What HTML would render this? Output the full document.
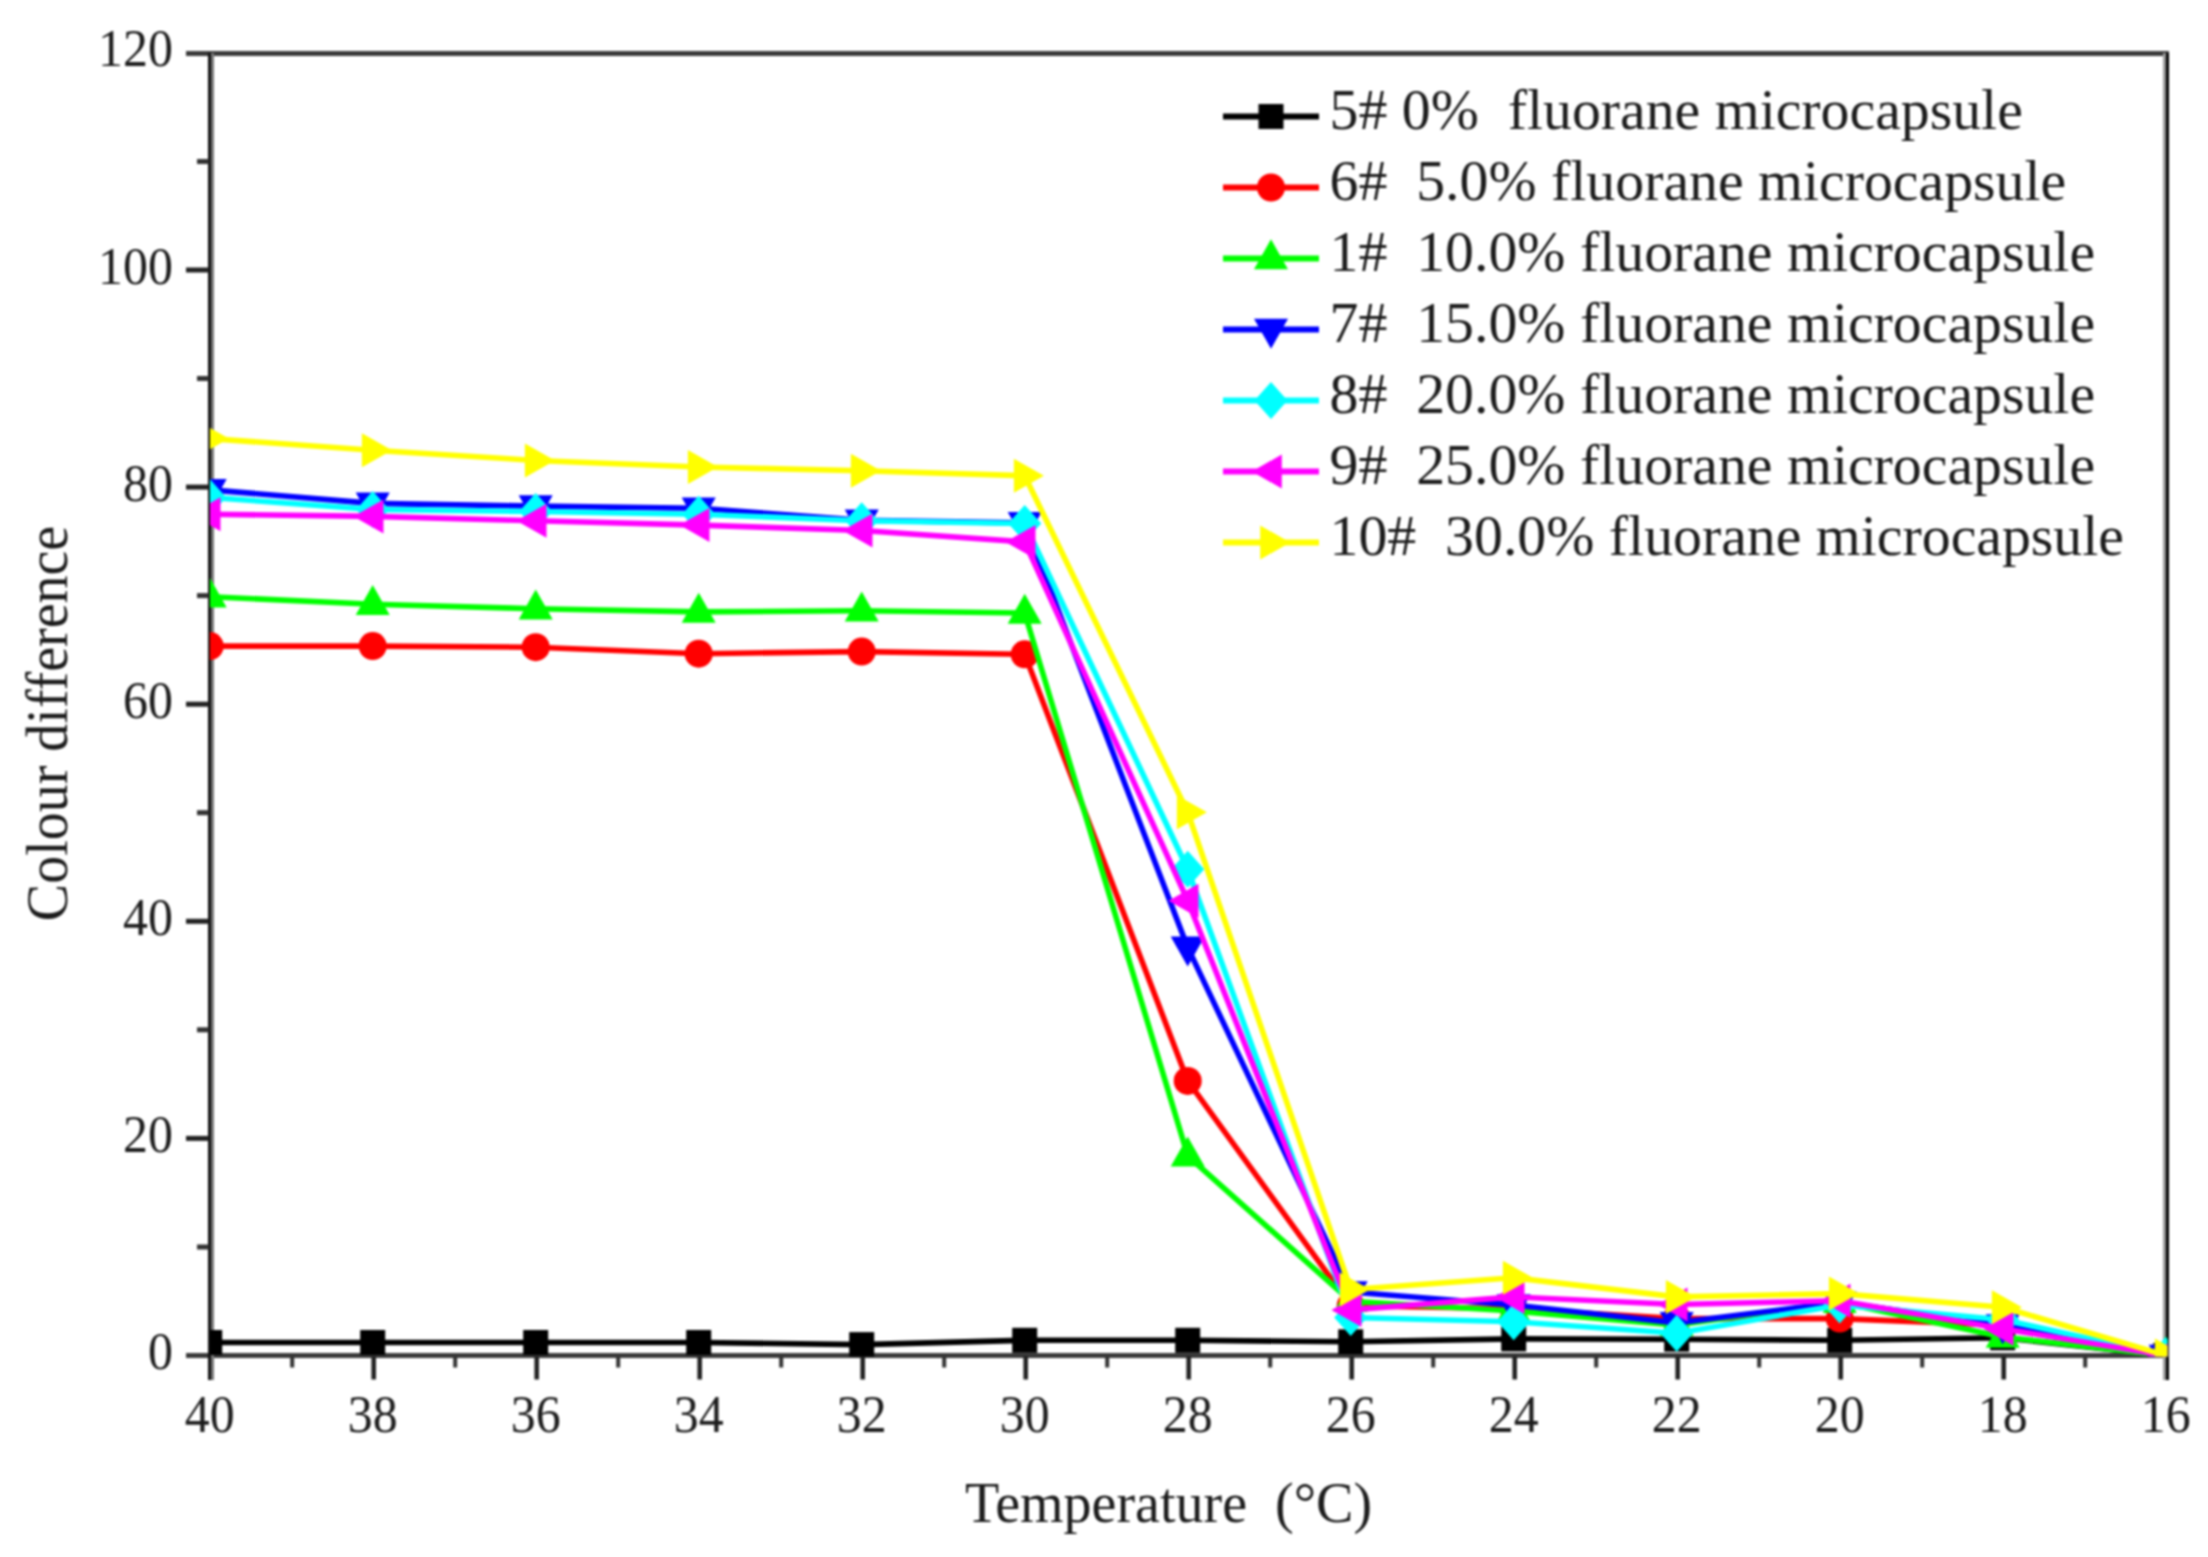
<!DOCTYPE html>
<html lang="en"><head><meta charset="utf-8"><title>Colour difference vs temperature</title>
<style>
html,body{margin:0;padding:0;background:#fff;}
body{width:2208px;height:1557px;overflow:hidden;}
svg{display:block;font-family:"Liberation Serif",serif;fill:#1c1c1c;}
#chart{width:2208px;height:1557px;filter:blur(0.8px);}
.tk{font-size:52px;}
.ti{font-size:56px;}
.lg{font-size:57.8px;}
</style></head><body>
<div id="chart">
<svg width="2208" height="1557" viewBox="0 0 2208 1557">
<defs><clipPath id="cp"><rect x="210" y="53" width="1957.5" height="1303.5"/></clipPath></defs>
<rect x="0" y="0" width="2208" height="1557" fill="#ffffff"/>

<g id="axes">
<rect x="186" y="51" width="1983" height="5" fill="#3a3a3a"/>
<rect x="186" y="1353" width="1983" height="5" fill="#3a3a3a"/>
<rect x="208" y="53" width="3" height="1327" fill="#111"/><rect x="211" y="53" width="3" height="1327" fill="#777"/>
<rect x="2163" y="53" width="3" height="1327" fill="#999"/><rect x="2166" y="53" width="3" height="1327" fill="#000"/>
<rect x="197" y="1244.5" width="12" height="5" fill="#333"/>
<rect x="186" y="1135.9" width="23" height="5" fill="#222"/>
<rect x="197" y="1027.3" width="12" height="5" fill="#333"/>
<rect x="186" y="918.8" width="23" height="5" fill="#222"/>
<rect x="197" y="810.2" width="12" height="5" fill="#333"/>
<rect x="186" y="701.7" width="23" height="5" fill="#222"/>
<rect x="197" y="593.1" width="12" height="5" fill="#333"/>
<rect x="186" y="484.6" width="23" height="5" fill="#222"/>
<rect x="197" y="376.0" width="12" height="5" fill="#333"/>
<rect x="186" y="267.5" width="23" height="5" fill="#222"/>
<rect x="197" y="159.0" width="12" height="5" fill="#333"/>
<rect x="290.2" y="1356" width="4" height="11.5" fill="#333"/>
<rect x="371.4" y="1356" width="4.6" height="23.5" fill="#222"/>
<rect x="453.2" y="1356" width="4" height="11.5" fill="#333"/>
<rect x="534.4" y="1356" width="4.6" height="23.5" fill="#222"/>
<rect x="616.2" y="1356" width="4" height="11.5" fill="#333"/>
<rect x="697.4" y="1356" width="4.6" height="23.5" fill="#222"/>
<rect x="779.2" y="1356" width="4" height="11.5" fill="#333"/>
<rect x="860.4" y="1356" width="4.6" height="23.5" fill="#222"/>
<rect x="942.2" y="1356" width="4" height="11.5" fill="#333"/>
<rect x="1023.4" y="1356" width="4.6" height="23.5" fill="#222"/>
<rect x="1105.2" y="1356" width="4" height="11.5" fill="#333"/>
<rect x="1186.4" y="1356" width="4.6" height="23.5" fill="#222"/>
<rect x="1268.2" y="1356" width="4" height="11.5" fill="#333"/>
<rect x="1349.4" y="1356" width="4.6" height="23.5" fill="#222"/>
<rect x="1431.2" y="1356" width="4" height="11.5" fill="#333"/>
<rect x="1512.4" y="1356" width="4.6" height="23.5" fill="#222"/>
<rect x="1594.2" y="1356" width="4" height="11.5" fill="#333"/>
<rect x="1675.4" y="1356" width="4.6" height="23.5" fill="#222"/>
<rect x="1757.2" y="1356" width="4" height="11.5" fill="#333"/>
<rect x="1838.4" y="1356" width="4.6" height="23.5" fill="#222"/>
<rect x="1920.2" y="1356" width="4" height="11.5" fill="#333"/>
<rect x="2001.4" y="1356" width="4.6" height="23.5" fill="#222"/>
<rect x="2083.2" y="1356" width="4" height="11.5" fill="#333"/>
</g>
<g class="tk" text-anchor="end">
<text transform="translate(173,1369.0) scale(0.96,1)">0</text>
<text transform="translate(173,1151.9) scale(0.96,1)">20</text>
<text transform="translate(173,934.8) scale(0.96,1)">40</text>
<text transform="translate(173,717.7) scale(0.96,1)">60</text>
<text transform="translate(173,500.6) scale(0.96,1)">80</text>
<text transform="translate(173,283.5) scale(0.96,1)">100</text>
<text transform="translate(173,66.4) scale(0.96,1)">120</text>
</g><g class="tk" text-anchor="middle">
<text transform="translate(209.7,1431.5) scale(0.96,1)">40</text>
<text transform="translate(372.7,1431.5) scale(0.96,1)">38</text>
<text transform="translate(535.7,1431.5) scale(0.96,1)">36</text>
<text transform="translate(698.7,1431.5) scale(0.96,1)">34</text>
<text transform="translate(861.7,1431.5) scale(0.96,1)">32</text>
<text transform="translate(1024.7,1431.5) scale(0.96,1)">30</text>
<text transform="translate(1187.7,1431.5) scale(0.96,1)">28</text>
<text transform="translate(1350.7,1431.5) scale(0.96,1)">26</text>
<text transform="translate(1513.7,1431.5) scale(0.96,1)">24</text>
<text transform="translate(1676.7,1431.5) scale(0.96,1)">22</text>
<text transform="translate(1839.7,1431.5) scale(0.96,1)">20</text>
<text transform="translate(2002.7,1431.5) scale(0.96,1)">18</text>
<text transform="translate(2165.7,1431.5) scale(0.96,1)">16</text>
</g>
<text class="ti" text-anchor="middle" x="1168.5" y="1521.5">Temperature  (°C)</text>
<text class="ti" text-anchor="middle" transform="translate(66.5,723.5) rotate(-90) scale(1,1.05)">Colour difference</text>
<g clip-path="url(#cp)" stroke-linejoin="round">
<polyline points="209.7,1342.5 372.7,1342.5 535.7,1342.5 698.7,1342.5 861.7,1344.6 1024.7,1340.3 1187.7,1340.3 1350.7,1341.8 1513.7,1338.9 1676.7,1339.2 1839.7,1340.3 2002.7,1337.8 2165.7,1355.5" fill="none" stroke="#000000" stroke-width="5.6"/>
<rect x="197.2" y="1330.0" width="25.0" height="25.0" fill="#000000"/>
<rect x="360.2" y="1330.0" width="25.0" height="25.0" fill="#000000"/>
<rect x="523.2" y="1330.0" width="25.0" height="25.0" fill="#000000"/>
<rect x="686.2" y="1330.0" width="25.0" height="25.0" fill="#000000"/>
<rect x="849.2" y="1332.1" width="25.0" height="25.0" fill="#000000"/>
<rect x="1012.2" y="1327.8" width="25.0" height="25.0" fill="#000000"/>
<rect x="1175.2" y="1327.8" width="25.0" height="25.0" fill="#000000"/>
<rect x="1338.2" y="1329.3" width="25.0" height="25.0" fill="#000000"/>
<rect x="1501.2" y="1326.4" width="25.0" height="25.0" fill="#000000"/>
<rect x="1664.2" y="1326.7" width="25.0" height="25.0" fill="#000000"/>
<rect x="1827.2" y="1327.8" width="25.0" height="25.0" fill="#000000"/>
<rect x="1990.2" y="1325.3" width="25.0" height="25.0" fill="#000000"/>
<rect x="2153.2" y="1343.0" width="25.0" height="25.0" fill="#000000"/>
<polyline points="209.7,646.1 372.7,646.1 535.7,647.2 698.7,653.7 861.7,651.6 1024.7,654.3 1187.7,1080.9 1350.7,1305.6 1513.7,1308.8 1676.7,1318.6 1839.7,1318.6 2002.7,1325.1 2165.7,1355.5" fill="none" stroke="#ff0000" stroke-width="5.6"/>
<circle cx="209.7" cy="646.1" r="14" fill="#ff0000"/>
<circle cx="372.7" cy="646.1" r="14" fill="#ff0000"/>
<circle cx="535.7" cy="647.2" r="14" fill="#ff0000"/>
<circle cx="698.7" cy="653.7" r="14" fill="#ff0000"/>
<circle cx="861.7" cy="651.6" r="14" fill="#ff0000"/>
<circle cx="1024.7" cy="654.3" r="14" fill="#ff0000"/>
<circle cx="1187.7" cy="1080.9" r="14" fill="#ff0000"/>
<circle cx="1350.7" cy="1305.6" r="14" fill="#ff0000"/>
<circle cx="1513.7" cy="1308.8" r="14" fill="#ff0000"/>
<circle cx="1676.7" cy="1318.6" r="14" fill="#ff0000"/>
<circle cx="1839.7" cy="1318.6" r="14" fill="#ff0000"/>
<circle cx="2002.7" cy="1325.1" r="14" fill="#ff0000"/>
<circle cx="2165.7" cy="1355.5" r="14" fill="#ff0000"/>
<polyline points="209.7,596.7 372.7,604.3 535.7,608.7 698.7,611.9 861.7,610.8 1024.7,613.0 1187.7,1155.8 1350.7,1301.2 1513.7,1311.0 1676.7,1325.1 1839.7,1302.3 2002.7,1337.0 2165.7,1355.5" fill="none" stroke="#00ff00" stroke-width="5.6"/>
<polygon points="192.7,607.5 226.7,607.5 209.7,577.5" fill="#00ff00"/>
<polygon points="355.7,615.1 389.7,615.1 372.7,585.1" fill="#00ff00"/>
<polygon points="518.7,619.5 552.7,619.5 535.7,589.5" fill="#00ff00"/>
<polygon points="681.7,622.7 715.7,622.7 698.7,592.7" fill="#00ff00"/>
<polygon points="844.7,621.6 878.7,621.6 861.7,591.6" fill="#00ff00"/>
<polygon points="1007.7,623.8 1041.7,623.8 1024.7,593.8" fill="#00ff00"/>
<polygon points="1170.7,1166.6 1204.7,1166.6 1187.7,1136.6" fill="#00ff00"/>
<polygon points="1333.7,1312.0 1367.7,1312.0 1350.7,1282.0" fill="#00ff00"/>
<polygon points="1496.7,1321.8 1530.7,1321.8 1513.7,1291.8" fill="#00ff00"/>
<polygon points="1659.7,1335.9 1693.7,1335.9 1676.7,1305.9" fill="#00ff00"/>
<polygon points="1822.7,1313.1 1856.7,1313.1 1839.7,1283.1" fill="#00ff00"/>
<polygon points="1985.7,1347.8 2019.7,1347.8 2002.7,1317.8" fill="#00ff00"/>
<polygon points="2148.7,1366.3 2182.7,1366.3 2165.7,1336.3" fill="#00ff00"/>
<polyline points="209.7,489.8 372.7,503.4 535.7,506.1 698.7,508.3 861.7,520.2 1024.7,522.9 1187.7,947.4 1350.7,1292.0 1513.7,1305.0 1676.7,1322.9 1839.7,1302.3 2002.7,1325.1 2165.7,1355.5" fill="none" stroke="#0000ff" stroke-width="5.6"/>
<polygon points="192.7,479.0 226.7,479.0 209.7,509.0" fill="#0000ff"/>
<polygon points="355.7,492.6 389.7,492.6 372.7,522.6" fill="#0000ff"/>
<polygon points="518.7,495.3 552.7,495.3 535.7,525.3" fill="#0000ff"/>
<polygon points="681.7,497.5 715.7,497.5 698.7,527.5" fill="#0000ff"/>
<polygon points="844.7,509.4 878.7,509.4 861.7,539.4" fill="#0000ff"/>
<polygon points="1007.7,512.1 1041.7,512.1 1024.7,542.1" fill="#0000ff"/>
<polygon points="1170.7,936.6 1204.7,936.6 1187.7,966.6" fill="#0000ff"/>
<polygon points="1333.7,1281.2 1367.7,1281.2 1350.7,1311.2" fill="#0000ff"/>
<polygon points="1496.7,1294.2 1530.7,1294.2 1513.7,1324.2" fill="#0000ff"/>
<polygon points="1659.7,1312.1 1693.7,1312.1 1676.7,1342.1" fill="#0000ff"/>
<polygon points="1822.7,1291.5 1856.7,1291.5 1839.7,1321.5" fill="#0000ff"/>
<polygon points="1985.7,1314.3 2019.7,1314.3 2002.7,1344.3" fill="#0000ff"/>
<polygon points="2148.7,1344.7 2182.7,1344.7 2165.7,1374.7" fill="#0000ff"/>
<polyline points="209.7,497.4 372.7,509.4 535.7,511.5 698.7,514.2 861.7,520.8 1024.7,523.5 1187.7,869.2 1350.7,1317.5 1513.7,1321.8 1676.7,1333.2 1839.7,1305.0 2002.7,1319.7 2165.7,1355.5" fill="none" stroke="#00ffff" stroke-width="5.6"/>
<polygon points="193.2,497.4 209.7,478.9 226.2,497.4 209.7,515.9" fill="#00ffff"/>
<polygon points="356.2,509.4 372.7,490.9 389.2,509.4 372.7,527.9" fill="#00ffff"/>
<polygon points="519.2,511.5 535.7,493.0 552.2,511.5 535.7,530.0" fill="#00ffff"/>
<polygon points="682.2,514.2 698.7,495.7 715.2,514.2 698.7,532.7" fill="#00ffff"/>
<polygon points="845.2,520.8 861.7,502.3 878.2,520.8 861.7,539.3" fill="#00ffff"/>
<polygon points="1008.2,523.5 1024.7,505.0 1041.2,523.5 1024.7,542.0" fill="#00ffff"/>
<polygon points="1171.2,869.2 1187.7,850.7 1204.2,869.2 1187.7,887.7" fill="#00ffff"/>
<polygon points="1334.2,1317.5 1350.7,1299.0 1367.2,1317.5 1350.7,1336.0" fill="#00ffff"/>
<polygon points="1497.2,1321.8 1513.7,1303.3 1530.2,1321.8 1513.7,1340.3" fill="#00ffff"/>
<polygon points="1660.2,1333.2 1676.7,1314.7 1693.2,1333.2 1676.7,1351.7" fill="#00ffff"/>
<polygon points="1823.2,1305.0 1839.7,1286.5 1856.2,1305.0 1839.7,1323.5" fill="#00ffff"/>
<polygon points="1986.2,1319.7 2002.7,1301.2 2019.2,1319.7 2002.7,1338.2" fill="#00ffff"/>
<polygon points="2149.2,1355.5 2165.7,1337.0 2182.2,1355.5 2165.7,1374.0" fill="#00ffff"/>
<polyline points="209.7,514.2 372.7,516.4 535.7,520.8 698.7,525.1 861.7,530.5 1024.7,541.9 1187.7,900.7 1350.7,1309.9 1513.7,1296.9 1676.7,1304.5 1839.7,1300.7 2002.7,1328.7 2165.7,1355.5" fill="none" stroke="#ff00ff" stroke-width="5.6"/>
<polygon points="220.5,497.2 220.5,531.2 190.5,514.2" fill="#ff00ff"/>
<polygon points="383.5,499.4 383.5,533.4 353.5,516.4" fill="#ff00ff"/>
<polygon points="546.5,503.8 546.5,537.8 516.5,520.8" fill="#ff00ff"/>
<polygon points="709.5,508.1 709.5,542.1 679.5,525.1" fill="#ff00ff"/>
<polygon points="872.5,513.5 872.5,547.5 842.5,530.5" fill="#ff00ff"/>
<polygon points="1035.5,524.9 1035.5,558.9 1005.5,541.9" fill="#ff00ff"/>
<polygon points="1198.5,883.7 1198.5,917.7 1168.5,900.7" fill="#ff00ff"/>
<polygon points="1361.5,1292.9 1361.5,1326.9 1331.5,1309.9" fill="#ff00ff"/>
<polygon points="1524.5,1279.9 1524.5,1313.9 1494.5,1296.9" fill="#ff00ff"/>
<polygon points="1687.5,1287.5 1687.5,1321.5 1657.5,1304.5" fill="#ff00ff"/>
<polygon points="1850.5,1283.7 1850.5,1317.7 1820.5,1300.7" fill="#ff00ff"/>
<polygon points="2013.5,1311.7 2013.5,1345.7 1983.5,1328.7" fill="#ff00ff"/>
<polygon points="2176.5,1338.5 2176.5,1372.5 2146.5,1355.5" fill="#ff00ff"/>
<polyline points="209.7,438.6 372.7,450.2 535.7,460.5 698.7,467.0 861.7,470.8 1024.7,475.7 1187.7,812.2 1350.7,1289.5 1513.7,1277.8 1676.7,1296.9 1839.7,1293.6 2002.7,1307.2 2165.7,1355.5" fill="none" stroke="#ffff00" stroke-width="5.6"/>
<polygon points="198.9,421.6 198.9,455.6 228.9,438.6" fill="#ffff00"/>
<polygon points="361.9,433.2 361.9,467.2 391.9,450.2" fill="#ffff00"/>
<polygon points="524.9,443.5 524.9,477.5 554.9,460.5" fill="#ffff00"/>
<polygon points="687.9,450.0 687.9,484.0 717.9,467.0" fill="#ffff00"/>
<polygon points="850.9,453.8 850.9,487.8 880.9,470.8" fill="#ffff00"/>
<polygon points="1013.9,458.7 1013.9,492.7 1043.9,475.7" fill="#ffff00"/>
<polygon points="1176.9,795.2 1176.9,829.2 1206.9,812.2" fill="#ffff00"/>
<polygon points="1339.9,1272.5 1339.9,1306.5 1369.9,1289.5" fill="#ffff00"/>
<polygon points="1502.9,1260.8 1502.9,1294.8 1532.9,1277.8" fill="#ffff00"/>
<polygon points="1665.9,1279.9 1665.9,1313.9 1695.9,1296.9" fill="#ffff00"/>
<polygon points="1828.9,1276.6 1828.9,1310.6 1858.9,1293.6" fill="#ffff00"/>
<polygon points="1991.9,1290.2 1991.9,1324.2 2021.9,1307.2" fill="#ffff00"/>
<polygon points="2154.9,1338.5 2154.9,1372.5 2184.9,1355.5" fill="#ffff00"/>
</g>
<g id="legend">
<rect x="1223" y="113.5" width="96" height="6" fill="#000000"/>
<rect x="1258.5" y="104.0" width="25.0" height="25.0" fill="#000000"/>
<text class="lg" x="1329.5" y="129.3">5# 0%  fluorane microcapsule</text>
<rect x="1223" y="184.5" width="96" height="6" fill="#ff0000"/>
<circle cx="1271.0" cy="187.5" r="14" fill="#ff0000"/>
<text class="lg" x="1329.5" y="200.3">6#  5.0% fluorane microcapsule</text>
<rect x="1223" y="255.5" width="96" height="6" fill="#00ff00"/>
<polygon points="1254.0,269.3 1288.0,269.3 1271.0,239.3" fill="#00ff00"/>
<text class="lg" x="1329.5" y="271.3">1#  10.0% fluorane microcapsule</text>
<rect x="1223" y="326.5" width="96" height="6" fill="#0000ff"/>
<polygon points="1254.0,318.7 1288.0,318.7 1271.0,348.7" fill="#0000ff"/>
<text class="lg" x="1329.5" y="342.3">7#  15.0% fluorane microcapsule</text>
<rect x="1223" y="397.5" width="96" height="6" fill="#00ffff"/>
<polygon points="1254.5,400.5 1271.0,382.0 1287.5,400.5 1271.0,419.0" fill="#00ffff"/>
<text class="lg" x="1329.5" y="413.3">8#  20.0% fluorane microcapsule</text>
<rect x="1223" y="468.5" width="96" height="6" fill="#ff00ff"/>
<polygon points="1281.8,454.5 1281.8,488.5 1251.8,471.5" fill="#ff00ff"/>
<text class="lg" x="1329.5" y="484.3">9#  25.0% fluorane microcapsule</text>
<rect x="1223" y="539.5" width="96" height="6" fill="#ffff00"/>
<polygon points="1260.2,525.5 1260.2,559.5 1290.2,542.5" fill="#ffff00"/>
<text class="lg" x="1329.5" y="555.3">10#  30.0% fluorane microcapsule</text>
</g>
</svg>
</div></body></html>
